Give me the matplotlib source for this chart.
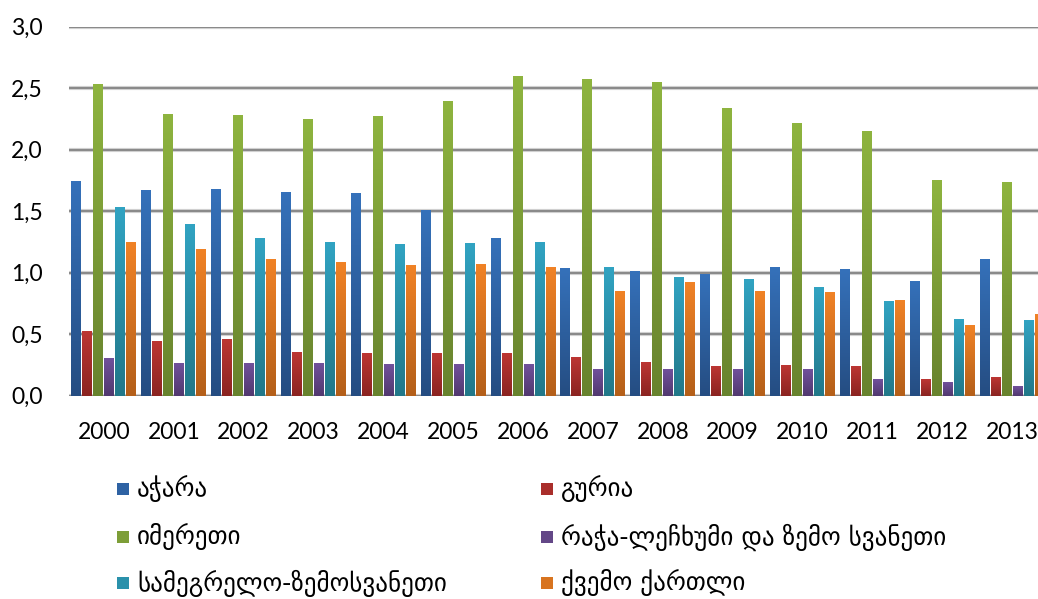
import numpy as np
import matplotlib
matplotlib.use("Agg")
import matplotlib.pyplot as plt
from matplotlib.colors import to_rgb
from matplotlib.patches import Rectangle

years = ["2000", "2001", "2002", "2003", "2004", "2005", "2006",
         "2007", "2008", "2009", "2010", "2011", "2012", "2013"]
series_names = ["აჭარა", "გურია", "იმერეთი",
                "რაჭა-ლეჩხუმი და ზემო სვანეთი",
                "სამეგრელო-ზემოსვანეთი", "ქვემო ქართლი"]
adjara = [1.745, 1.672, 1.680, 1.656, 1.648, 1.508, 1.282, 1.038, 1.014, 0.989, 1.046, 1.030, 0.933, 1.111]
guria = [0.526, 0.445, 0.461, 0.355, 0.347, 0.347, 0.347, 0.315, 0.274, 0.242, 0.250, 0.242, 0.136, 0.152]
imereti = [2.534, 2.290, 2.283, 2.250, 2.274, 2.396, 2.600, 2.575, 2.551, 2.340, 2.218, 2.153, 1.754, 1.737]
racha = [0.306, 0.266, 0.266, 0.266, 0.258, 0.258, 0.258, 0.217, 0.217, 0.217, 0.217, 0.136, 0.112, 0.079]
samegrelo = [1.534, 1.396, 1.282, 1.250, 1.233, 1.241, 1.250, 1.046, 0.965, 0.949, 0.884, 0.770, 0.624, 0.615]
kvemo_kartli = [1.250, 1.193, 1.110, 1.087, 1.063, 1.071, 1.046, 0.851, 0.925, 0.851, 0.843, 0.778, 0.575, 0.665]
yticks = [0.0, 0.5, 1.0, 1.5, 2.0, 2.5, 3.0]
ytick_labels = ["0,0", "0,5", "1,0", "1,5", "2,0", "2,5", "3,0"]

data = [adjara, guria, imereti, racha, samegrelo, kvemo_kartli]
grad_top = ["#3571BA", "#BC3633", "#8EB43F", "#71519B", "#31A3C2", "#F08226"]
grad_bot = ["#254D82", "#8B2421", "#68832E", "#51396F", "#227889", "#B45F19"]
mid_cols = ["#2E62A3", "#A92E2B", "#7D9E38", "#634787", "#2A91AB", "#D8741F"]

plt.rcParams['font.family'] = ['Lato', 'DejaVu Sans']
fig = plt.figure(figsize=(10.38, 5.99), dpi=100)
ax = fig.add_axes([69/1038, 203.3/599, 978/1038, 369/599])

pitch = 0.1575
width = 0.143
x = np.arange(len(years))
for j, vals in enumerate(data):
    c0 = np.array(to_rgb(grad_bot[j]))
    c1 = np.array(to_rgb(grad_top[j]))
    t = np.linspace(0, 1, 64)[:, None]
    grad = (c0 * (1 - t) + c1 * t)[:, None, :]
    bars = ax.bar(x + (j - 2.5) * pitch, vals, width, color=mid_cols[j],
                  zorder=3, linewidth=0)
    for b in bars:
        x0 = b.get_x(); h = b.get_height()
        ax.imshow(grad, extent=[x0, x0 + width, 0, h], origin='lower',
                  aspect='auto', zorder=3.5, interpolation='bilinear')

ax.set_xlim(-0.5, len(years) - 0.5)
ax.set_ylim(0, 3.0)
ax.set_yticks(yticks)
ax.set_yticklabels(ytick_labels)
ax.set_xticks(x)
ax.set_xticklabels(years)
ax.tick_params(axis='both', length=0, labelsize=16.5, colors='black')
ax.tick_params(axis='y', pad=19)
ax.tick_params(axis='x', pad=19)
for s in ax.spines.values():
    s.set_visible(False)
for v in yticks:
    ax.axhline(v, color='#d9d9d9', lw=3.0, zorder=1)
    ax.axhline(v, color='#8a8a8a', lw=1.6, zorder=1.5)

# legend (manual, two columns, row-wise order)
rows_y = [489, 537, 583]
cols_x = [117, 541]
for k in range(6):
    r, c = k // 2, k % 2
    xm = cols_x[c] / 1038
    ym = 1 - (rows_y[r] + 6) / 599
    fig.patches.append(Rectangle((xm, ym), 12 / 1038, 12 / 599,
                                 transform=fig.transFigure,
                                 facecolor=mid_cols[k], edgecolor='none'))
    fig.text((cols_x[c] + 20) / 1038, 1 - rows_y[r] / 599, series_names[k],
             fontsize=18, va='center', ha='left',
             family=['DejaVu Sans'])

fig.savefig("out.png", dpi=100)
